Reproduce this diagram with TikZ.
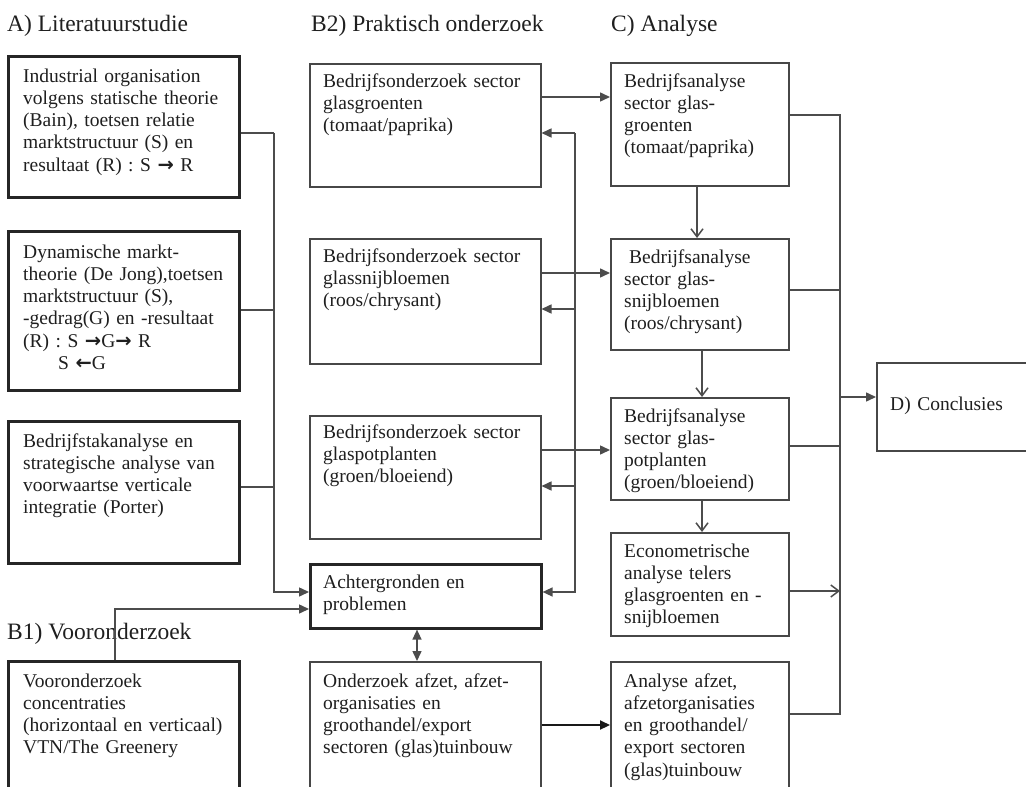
\documentclass[tikz,border=0pt]{standalone}
\usepackage{fontspec}
\setmainfont{Liberation Serif}
\newfontfamily\arrowfont{DejaVu Sans}
\usetikzlibrary{arrows.meta}
\newcommand\bodysize{\fontsize{19.5}{22.3}\selectfont}
\newcommand\headsize{\fontsize{23.5}{26}\selectfont}
\newcommand\rar{{\arrowfont\bfseries →}}
\newcommand\lar{{\arrowfont\bfseries ←}}
\tikzset{
  thickbox/.style={draw=black!85, line width=2.6pt, anchor=north west, inner sep=0pt},
  thinbox/.style={draw=black!72, line width=1.5pt, anchor=north west, inner sep=0pt},
  txt/.style={anchor=base west, inner sep=0pt, text width=240pt, align=left,
              font=\bodysize, text=black!88},
  head/.style={anchor=base west, inner sep=0pt, font=\headsize, text=black!88},
  link/.style={draw=black!70, line width=1.5pt},
  fa/.style={-{Triangle[length=10pt,width=9pt]}},
  fab/.style={{Triangle[length=10pt,width=9pt]}-{Triangle[length=10pt,width=9pt]}},
  oa/.style={-{Straight Barb[length=8pt,width=12pt]}},
}
\begin{document}
\begin{tikzpicture}[x=1pt,y=-1pt]
\clip (0,0) rectangle (1026,787);
\fill[white] (0,0) rectangle (1026,787);

% column headings
\node[head] (hA) at (7,31) {A) Literatuurstudie};
\node[head] (hB2) at (311,31) {B2) Praktisch onderzoek};
\node[head] (hC) at (611,31) {C) Analyse};
\node[head] (hB1) at (7,639) {B1) Vooronderzoek};

% A) literature boxes
\node[thickbox, minimum width=231, minimum height=141] (a1) at (7,55) {};
\node[txt] (a1t) at ([shift={(16,27)}]a1.north west)
  {Industrial organisation\\volgens statische theorie\\(Bain), toetsen relatie\\marktstructuur (S) en\\resultaat (R) : S \rar\ R};
\node[thickbox, minimum width=231, minimum height=159] (a2) at (7,230) {};
\node[txt] (a2t) at ([shift={(16,28)}]a2.north west)
  {Dynamische markt-\\theorie (De Jong),toetsen\\marktstructuur (S),\\-gedrag(G) en -resultaat\\(R) : S \rar G\rar\ R\\\hspace*{35pt}S \lar G};
\node[thickbox, minimum width=231, minimum height=142] (a3) at (7,420) {};
\node[txt] (a3t) at ([shift={(16,27)}]a3.north west)
  {Bedrijfstakanalyse en\\strategische analyse van\\voorwaartse verticale\\integratie (Porter)};

% B1) preliminary study
\node[thickbox, minimum width=231, minimum height=160] (b1) at (7,660) {};
\node[txt] (b1t) at ([shift={(16,27)}]b1.north west)
  {Vooronderzoek\\concentraties\\(horizontaal en verticaal)\\VTN/The Greenery};

% B2) practical research
\node[thinbox, minimum width=231, minimum height=123] (p1) at (309,63) {};
\node[txt] (p1t) at ([shift={(14,24)}]p1.north west)
  {Bedrijfsonderzoek sector\\glasgroenten\\(tomaat/paprika)};
\node[thinbox, minimum width=231, minimum height=125] (p2) at (309,238) {};
\node[txt] (p2t) at ([shift={(14,24)}]p2.north west)
  {Bedrijfsonderzoek sector\\glassnijbloemen\\(roos/chrysant)};
\node[thinbox, minimum width=231, minimum height=123] (p3) at (309,415) {};
\node[txt] (p3t) at ([shift={(14,23)}]p3.north west)
  {Bedrijfsonderzoek sector\\glaspotplanten\\(groen/bloeiend)};
\node[thickbox, minimum width=231, minimum height=64] (ach) at (309,563) {};
\node[txt] (acht) at ([shift={(14,25)}]ach.north west)
  {Achtergronden en\\problemen};
\node[thinbox, minimum width=231, minimum height=160] (ond) at (309,661) {};
\node[txt] (ondt) at ([shift={(14,26)}]ond.north west)
  {Onderzoek afzet, afzet-\\organisaties en\\groothandel/export\\sectoren (glas)tuinbouw};

% C) analysis
\node[thinbox, minimum width=178, minimum height=123] (c1) at (610,62) {};
\node[txt] (c1t) at ([shift={(14,25)}]c1.north west)
  {Bedrijfsanalyse\\sector glas-\\groenten\\(tomaat/paprika)};
\node[thinbox, minimum width=178, minimum height=111] (c2) at (610,238) {};
\node[txt] (c2t) at ([shift={(14,25)}]c2.north west)
  {\hspace*{5pt}Bedrijfsanalyse\\sector glas-\\snijbloemen\\(roos/chrysant)};
\node[thinbox, minimum width=178, minimum height=102] (c3) at (610,397) {};
\node[txt] (c3t) at ([shift={(14,25)}]c3.north west)
  {Bedrijfsanalyse\\sector glas-\\potplanten\\(groen/bloeiend)};
\node[thinbox, minimum width=178, minimum height=103] (c4) at (610,532) {};
\node[txt] (c4t) at ([shift={(14,25)}]c4.north west)
  {Econometrische\\analyse telers\\glasgroenten en -\\snijbloemen};
\node[thinbox, minimum width=178, minimum height=160] (c5) at (610,661) {};
\node[txt] (c5t) at ([shift={(14,26)}]c5.north west)
  {Analyse afzet,\\afzetorganisaties\\en groothandel/\\export sectoren\\(glas)tuinbouw};

% D) conclusions
\node[thinbox, minimum width=200, minimum height=88] (d) at (876,362) {};
\node[txt] (dt) at ([shift={(14,48)}]d.north west) {D) Conclusies};

% bend points
\coordinate (L1) at (274,133);
\coordinate (L2) at (274,310);
\coordinate (L3) at (274,487);
\coordinate (L4) at (274,592);
\coordinate (V1) at (115,609);
\coordinate (R1) at (575,133);
\coordinate (R2) at (575,309);
\coordinate (R3) at (575,486);
\coordinate (R4) at (575,592);
\coordinate (H1) at (0,97);
\coordinate (H2) at (0,273);
\coordinate (H3) at (0,450);
\coordinate (H4) at (0,725);
\coordinate (M) at (417,0);
\coordinate (CV1) at (697,0);
\coordinate (CV2) at (702,0);
\coordinate (Q1) at (840,115);
\coordinate (Q2) at (840,290);
\coordinate (Q3) at (840,446);
\coordinate (Q4) at (840,591);
\coordinate (Q5) at (840,714);
\coordinate (QD) at (840,397);

% literature feeds background
\draw[link] (a1.east |- L1) -- (L1);
\draw[link] (a2.east |- L2) -- (L2);
\draw[link] (a3.east |- L3) -- (L3);
\draw[link, fa] (L1) -- (L4) -- (ach.west |- L4);
\draw[link, fa] (b1.north -| V1) -- (V1) -- (ach.west |- V1);

% background feeds practical research
\draw[link, fa] (R1) -- (R4) -- (ach.east |- R4);
\draw[link, fa] (R1) -- (p1.east |- R1);
\draw[link, fa] (R2) -- (p2.east |- R2);
\draw[link, fa] (R3) -- (p3.east |- R3);
\draw[link, fab] (ach.south -| M) -- (ond.north -| M);

% research to analysis
\draw[link, fa] (p1.east |- H1) -- (c1.west |- H1);
\draw[link, fa] (p2.east |- H2) -- (c2.west |- H2);
\draw[link, fa] (p3.east |- H3) -- (c3.west |- H3);
\draw[link, fa, draw=black!90, line width=2.2pt] (ond.east |- H4) -- (c5.west |- H4);

% analysis chain
\draw[link, oa] (c1.south -| CV1) -- (c2.north -| CV1);
\draw[link, oa] (c2.south -| CV2) -- (c3.north -| CV2);
\draw[link, oa] (c3.south -| CV2) -- (c4.north -| CV2);

% analysis to conclusions
\draw[link] (c1.east |- Q1) -- (Q1) -- (Q5) -- (c5.east |- Q5);
\draw[link] (c2.east |- Q2) -- (Q2);
\draw[link] (c3.east |- Q3) -- (Q3);
\draw[link, oa] (c4.east |- Q4) -- (Q4);
\draw[link, fa] (QD) -- (d.west |- QD);
\end{tikzpicture}
\end{document}
